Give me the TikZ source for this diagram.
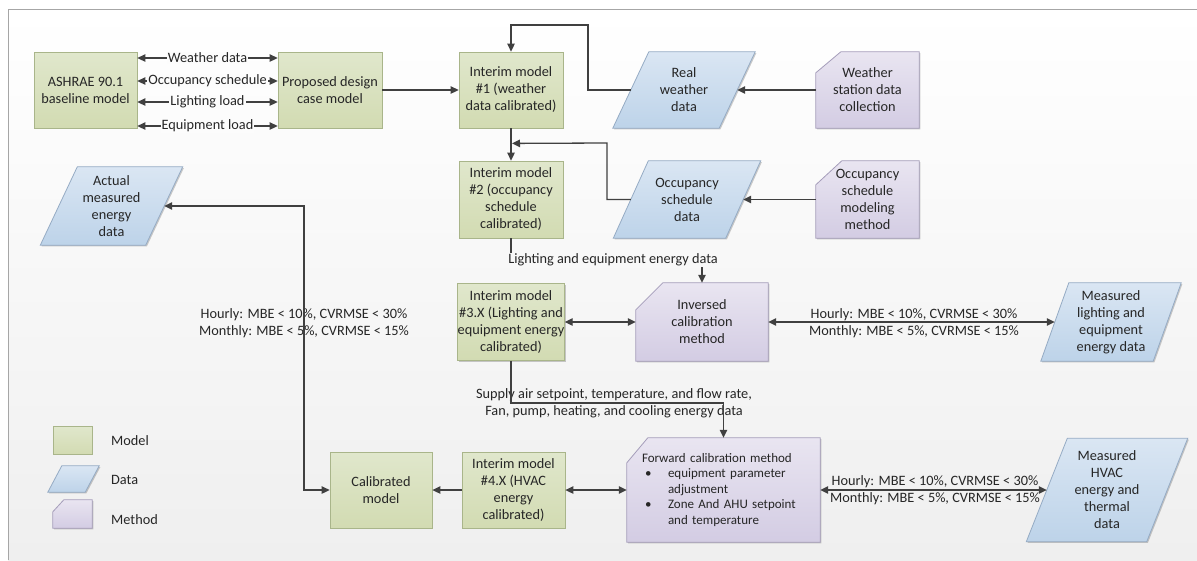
\documentclass[tikz,border=0pt]{standalone}
\usepackage{fontspec}
\setmainfont{Carlito}
\usetikzlibrary{arrows.meta,shadows}
\pgfdeclarelayer{bgl}
\pgfdeclarelayer{shp}
\pgfsetlayers{bgl,shp,main}
\definecolor{arrc}{HTML}{404040}
\definecolor{txtc}{HTML}{262626}
\definecolor{modT}{HTML}{E0E7CC}
\definecolor{modB}{HTML}{D2DBB2}
\definecolor{modD}{HTML}{A9B58A}
\definecolor{datT}{HTML}{DAE6F3}
\definecolor{datB}{HTML}{BDD3E9}
\definecolor{datD}{HTML}{95ABC4}
\definecolor{metT}{HTML}{E9E5F1}
\definecolor{metB}{HTML}{D3CCE3}
\definecolor{metD}{HTML}{A59DBA}
\definecolor{framec}{HTML}{A6A6A6}
\definecolor{bgT}{HTML}{FFFFFF}
\definecolor{bgB}{HTML}{EFEFEF}
\definecolor{labbg}{HTML}{FCFCFC}
\definecolor{labbgb}{HTML}{F8F8F8}
\newcommand\datashape[2]{\draw[datast] ([xshift=#2]#1.north west) -- ([xshift=#2]#1.north east) -- ([xshift=-#2]#1.south east) -- ([xshift=-#2]#1.south west) -- cycle;}
\newcommand\methshape[3]{\draw[metst] ([xshift=#2]#1.north west) -- (#1.north east) -- (#1.south east) -- (#1.south west) -- ([yshift=-#3]#1.north west) -- cycle;}
\begin{document}
\begin{tikzpicture}[x=1pt,y=-1pt,
  every node/.style={font=\fontsize{14.3pt}{17pt}\selectfont, text=txtc},
  shd/.style={drop shadow={shadow xshift=1.2pt, shadow yshift=-1.2pt, opacity=0.2, fill=black}},
  model/.style={draw=modD, line width=0.8pt, top color=modT, bottom color=modB, align=center, inner sep=0pt, shd},
  anc/.style={align=center, inner sep=0pt},
  datast/.style={draw=datD, line width=0.8pt, top color=datT, bottom color=datB, shd},
  metst/.style={draw=metD, line width=0.8pt, top color=metT, bottom color=metB, shd},
  arr/.style={draw=arrc, line width=1.3pt, -{Triangle[length=8pt,width=7.5pt]}},
  dbl/.style={draw=arrc, line width=1.3pt, {Triangle[length=8pt,width=7.5pt]}-{Triangle[length=8pt,width=7.5pt]}},
  lab/.style={inner xsep=1pt, inner ysep=1pt, fill=labbg},
  crit/.style={align=center, inner sep=0pt},
  leg/.style={anchor=west, inner sep=0pt},
]
\useasboundingbox (0,0) rectangle (1197,560);
\begin{pgfonlayer}{bgl}
\fill[top color=bgT, bottom color=bgB] (8,9) rectangle (1197,560);
\draw[framec, line width=0.8pt] (1197,9) -- (8,9) -- (8,560);
\end{pgfonlayer}

% models
\node[model, minimum width=103pt, minimum height=76pt] (ashrae) at (85.5,90) {ASHRAE 90.1\\baseline model};
\node[model, minimum width=104pt, minimum height=76pt] (proposed) at (330,90) {Proposed design\\case model};
\node[model, minimum width=104pt, minimum height=76pt] (im1) at (511,90) {Interim model\\\#1 (weather\\data calibrated)};
\node[model, minimum width=104pt, minimum height=77pt] (im2) at (511,199.5) {Interim model\\\#2 (occupancy\\schedule\\calibrated)};
\node[model, minimum width=104pt, minimum height=77pt] (im3) at (511,322) {Interim model\\\#3.X (Lighting and\\equipment energy\\calibrated)};
\node[model, minimum width=103pt, minimum height=76pt] (im4) at (513.5,490) {Interim model\\\#4.X (HVAC\\energy\\calibrated)};
\node[model, minimum width=102pt, minimum height=76pt] (calib) at (381,490) {Calibrated\\model};
\node[model, minimum width=39pt, minimum height=28pt] (legm) at (72.5,440) {};

% data
\node[anc, minimum width=106pt, minimum height=76pt] (realw) at (684,90) {Real\\weather\\data};
\node[anc, minimum width=112pt, minimum height=77pt] (occd) at (687,199.5) {Occupancy\\schedule\\data};
\node[anc, minimum width=105pt, minimum height=78pt] (actual) at (111.5,206) {Actual\\measured\\energy\\data};
\node[anc, minimum width=112pt, minimum height=78pt] (measl) at (1111,322) {Measured\\lighting and\\equipment\\energy data};
\node[anc, minimum width=120pt, minimum height=103pt] (meash) at (1107,490) {Measured\\HVAC\\energy and\\thermal\\data};
\node[anc, minimum width=37pt, minimum height=26pt] (legd) at (73.5,479) {};

% methods
\node[anc, minimum width=103pt, minimum height=76pt] (wsdc) at (867.5,90) {Weather\\station data\\collection};
\node[anc, minimum width=103pt, minimum height=77pt] (osmm) at (867.5,199.5) {Occupancy\\schedule\\modeling\\method};
\node[anc, minimum width=132pt, minimum height=78pt] (inv) at (702,322) {Inversed\\calibration\\method};
\node[anc, minimum width=193pt, minimum height=104pt, text width=163pt, align=left, font=\fontsize{13pt}{15.5pt}\selectfont] (fwd) at (723.5,490) {Forward calibration method\\
\makebox[26pt][l]{\hspace{3pt}\textbullet}equipment parameter\\
\hspace*{26pt}adjustment\\
\makebox[26pt][l]{\hspace{3pt}\textbullet}Zone And AHU setpoint\\
\hspace*{26pt}and temperature};
\node[anc, minimum width=39pt, minimum height=28pt] (legmt) at (72.5,514) {};

\begin{pgfonlayer}{shp}
\datashape{realw}{18pt}
\datashape{occd}{17.5pt}
\datashape{actual}{18.5pt}
\datashape{measl}{14pt}
\datashape{meash}{20.5pt}
\datashape{legd}{7pt}
\methshape{wsdc}{25pt}{21pt}
\methshape{osmm}{26pt}{24pt}
\methshape{inv}{27pt}{27pt}
\methshape{fwd}{21pt}{25pt}
\methshape{legmt}{11pt}{12pt}
\end{pgfonlayer}

% legend texts
\node[leg] (tmodel) at (111,441) {Model};
\node[leg] (tdata) at (111,480) {Data};
\node[leg] (tmeth) at (111,520) {Method};

% connectors
\draw[dbl] ([yshift=32pt]ashrae.east) -- node[lab] (lw) {Weather data} ([yshift=32pt]proposed.west);
\draw[dbl] ([yshift=9pt]ashrae.east) -- node[lab] (lo) {Occupancy schedule} ([yshift=9pt]proposed.west);
\draw[dbl] ([yshift=-12pt]ashrae.east) -- node[lab] (ll) {Lighting load} ([yshift=-12pt]proposed.west);
\draw[dbl] ([yshift=-36pt]ashrae.east) -- node[lab] (le) {Equipment load} ([yshift=-36pt]proposed.west);

\draw[arr] (proposed.east) -- (im1.west);
\draw[arr] (realw.west) -| (588,25) -| (im1.north);
\draw[arr] (wsdc.west) -- (realw.east);
\draw[arr] (im1.south) -- (im2.north);
\draw[arr] (occd.west) -| (607,143) -- ([xshift=1pt,yshift=-15pt]im1.south);
\draw[arr] (osmm.west) -- (occd.east);

\draw[arr] (im2.south) -- ++(0,22) -| (inv.north);
\node[lab, fill=labbgb] (lbl1) at (613,260) {Lighting and equipment energy data};

\draw[dbl] (im3.east) -- (inv.west);
\draw[dbl] (inv.east) -- (measl.west);
\node[crit] (c1) at (914,323) {Hourly: MBE < 10\%, CVRMSE < 30\%\\Monthly: MBE < 5\%, CVRMSE < 15\%};

\node[crit] (c2) at (614,403) {Supply air setpoint, temperature, and flow rate,\\Fan, pump, heating, and cooling energy data};
\draw[arr] (im3.south) -- ++(0,42) -| (fwd.north);

\draw[dbl] (im4.east) -- (fwd.west);
\draw[arr] (im4.west) -- (calib.east);

\node[crit] (c3) at (304,323) {Hourly: MBE < 10\%, CVRMSE < 30\%\\Monthly: MBE < 5\%, CVRMSE < 15\%};
\draw[dbl] (actual.east) -| (304,490) -- (calib.west);

\draw[dbl] (fwd.east) -- (meash.west);
\node[crit] (c4) at (935,490.5) {Hourly: MBE < 10\%, CVRMSE < 30\%\\Monthly: MBE < 5\%, CVRMSE < 15\%};
\end{tikzpicture}
\end{document}
